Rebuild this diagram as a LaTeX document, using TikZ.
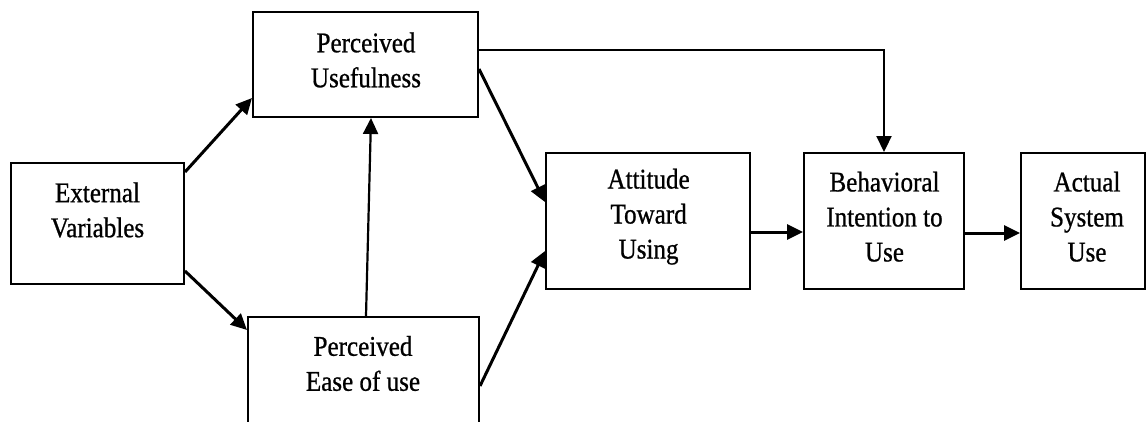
\documentclass[tikz,border=0pt]{standalone}
\usepackage{fontspec}
\setmainfont{Liberation Serif}[FakeStretch=0.88,FakeBold=0.8]
\usetikzlibrary{arrows.meta}
\begin{document}
\begin{tikzpicture}[x=1pt,y=-1pt,
  box/.style={draw=black,line width=2pt,inner sep=0pt,minimum width=#1},
  lbl/.style={align=center,inner sep=0pt,font=\fontsize{28.5}{35}\selectfont},
  arr/.style={line width=3pt,-{Triangle[length=16pt,width=15pt]}},
  thinarr/.style={line width=2.2pt,-{Triangle[length=16pt,width=15pt]}}]
\useasboundingbox (0,0) rectangle (1148,421);
\clip (0,0) rectangle (1148,421);
% boxes
\node[box=173pt,minimum height=121pt] (ext) at (97.5,223.5) {};
\node[box=225pt,minimum height=105pt] (pu) at (365.5,64.5) {};
\node[box=231pt,minimum height=123pt] (peou) at (363.5,378.5) {};
\node[box=204pt,minimum height=136pt] (att) at (648,221) {};
\node[box=160pt,minimum height=136pt] (bi) at (884,221) {};
\node[box=124pt,minimum height=136pt] (act) at (1083,221) {};
% labels
\node[lbl] (extl) at (97.5,210) {External\\Variables};
\node[lbl] (pul) at (366,60) {Perceived\\Usefulness};
\node[lbl] (peoul) at (363,363.5) {Perceived\\Ease of use};
\node[lbl] (attl) at (648.6,216.7) {Attitude\\Toward\\Using};
\node[lbl] (bil) at (884.5,216.7) {Behavioral\\Intention to\\Use};
\node[lbl] (actl) at (1087,216.7) {Actual\\System\\Use};
% connectors
\draw[arr] ([yshift=-10pt]ext.north east) -- ([yshift=20pt]pu.south west);
\draw[arr] ([yshift=14pt]ext.south east) -- ([yshift=-14pt]peou.north west);
\draw[thinarr] ([xshift=2.5pt]peou.north) -- ([xshift=5.5pt]pu.south);
\draw[arr] ([yshift=-58pt]pu.north east) -- ([yshift=-50pt]att.north west);
\draw[arr] ([yshift=-70pt]peou.north east) -- ([yshift=39pt]att.south west);
\draw[thinarr] ([yshift=-39pt]pu.north east) -| (bi.north);
\draw[arr] ([yshift=-11pt]att.east) -- ([yshift=-11pt]bi.west);
\draw[arr] ([yshift=-12pt]bi.east) -- ([yshift=-12pt]act.west);
\end{tikzpicture}
\end{document}
